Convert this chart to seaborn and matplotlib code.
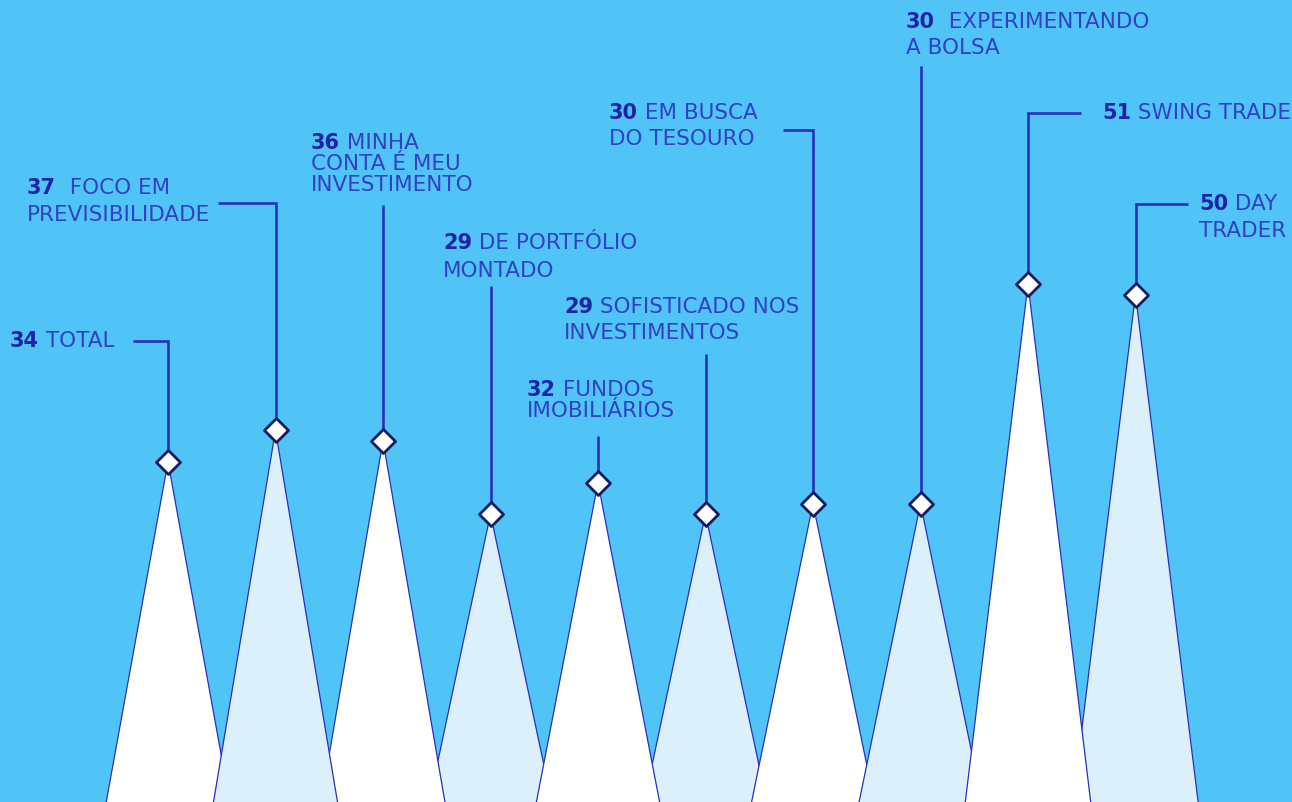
import numpy as np
import pandas as pd
import seaborn as sns
import matplotlib.pyplot as plt
import matplotlib.transforms as mtransforms

# data
values = [34, 37, 36, 29, 32, 29, 30, 30, 51, 50]
numbers = ["34", "37", "36", "29", "32", "29", "30", "30", "51", "50"]
first_lines = [" TOTAL", "  FOCO EM", " MINHA", " DE PORTFÓLIO", " FUNDOS",
               " SOFISTICADO NOS", " EM BUSCA", "  EXPERIMENTANDO",
               " SWING TRADE", " DAY"]
other_lines = ["", "PREVISIBILIDADE", "CONTA É MEU\nINVESTIMENTO", "MONTADO",
               "IMOBILIÁRIOS", "INVESTIMENTOS", "DO TESOURO", "A BOLSA", "",
               "TRADER"]

# label layout in pixels: text x, first line y, line gap, leader top y, elbow end x
label_x = [10, 27, 311, 443, 527, 564, 609, 906, 1102, 1199]
label_y = [341, 188, 143, 243, 390, 307, 113, 22, 113, 204]
line_gap = [26, 27, 21, 28, 21, 26, 26, 26, 26, 27]
leader_top = [341, 203, 205, 286, 436, 354, 130, 66, 113, 204]
elbow_x = [133, 218, None, None, None, None, 783, None, 1081, 1188]

BG = "#50C4F7"
LIGHT = "#DCF0FB"
EDGE = "#2A30B8"
NAVY = "#131C5E"
NUM_C = "#1F23A8"
TXT_C = "#3240C6"

W, H = 1292, 802
sns.set_theme(style="white")
plt.rcParams["font.family"] = ["DejaVu Sans"]

fig = plt.figure(figsize=(W / 100, H / 100), dpi=100, facecolor=BG)
ax = fig.add_axes([0, 0, 1, 1])
ax.set_facecolor(BG)

# category spacing ~107.5 px, first peak at 168 px; value 0 at 817 px, 10.45 px/unit
ax.set_xlim(-168 / 107.5, (W - 168) / 107.5)
ax.set_ylim(15 / 10.45, 817 / 10.45)
ax.set_axis_off()

pix = mtransforms.Affine2D().scale(1, -1).translate(0, H)
inv = ax.transData.inverted()

df = pd.DataFrame({"idx": np.arange(len(values)), "value": values})
half = 0.60

# taller peaks sit on top of their neighbours
for i, v in enumerate(values):
    fc = "white" if i % 2 == 0 else LIGHT
    ax.fill([i - half, i, i + half], [0, v, 0], facecolor=fc,
            edgecolor=EDGE, linewidth=0.9, zorder=2 + v * 0.001)

# leader lines
for i, v in enumerate(values):
    top = inv.transform((0, H - leader_top[i]))[1]
    xs = [i, i]
    ys = [v, top]
    if elbow_x[i] is not None:
        ex = inv.transform((elbow_x[i], 0))[0]
        xs.append(ex)
        ys.append(top)
    ax.plot(xs, ys, color=EDGE, linewidth=1.9, solid_joinstyle="miter",
            solid_capstyle="butt", zorder=3)

sns.scatterplot(data=df, x="idx", y="value", marker="D", s=150,
                color="white", edgecolor=NAVY, linewidth=2, zorder=5, ax=ax,
                legend=False)

fs_num = 15
fs = 15.5
for i in range(len(values)):
    t = ax.text(label_x[i], label_y[i], numbers[i], transform=pix,
                fontsize=fs_num, fontweight="bold", color=NUM_C, va="center",
                ha="left")
    ax.annotate(first_lines[i], xy=(1, 0.5), xycoords=t, fontsize=fs,
                color=TXT_C, va="center", ha="left")
    if other_lines[i]:
        for k, line in enumerate(other_lines[i].split("\n")):
            ax.text(label_x[i], label_y[i] + line_gap[i] * (k + 1), line,
                    transform=pix, fontsize=fs, color=TXT_C, va="center",
                    ha="left")

fig.savefig("out.png", dpi=100, facecolor=BG)
